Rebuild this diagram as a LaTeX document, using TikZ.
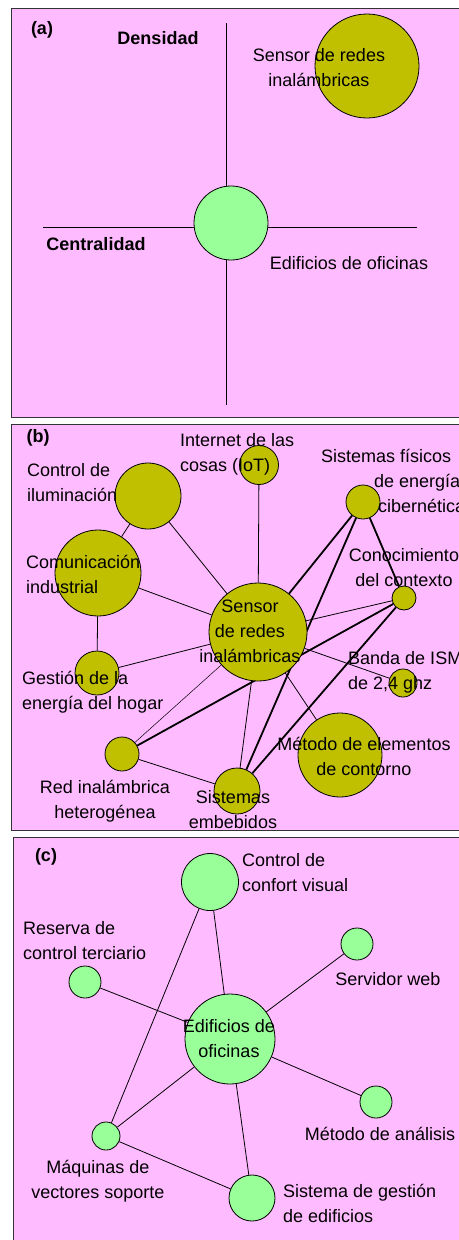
\documentclass[tikz,border=0pt]{standalone}
\usepackage{fontspec}
\setmainfont{Liberation Sans}
\usetikzlibrary{calc}

\definecolor{panelpink}{HTML}{FFBBFF}
\definecolor{nodeolive}{HTML}{C0C000}
\definecolor{nodegreen}{HTML}{99FF99}

\pgfdeclarelayer{panel}
\pgfdeclarelayer{links}
\pgfsetlayers{panel,links,main}

\begin{document}
\begin{tikzpicture}[x=1pt, y=-1pt,
    every node/.style={font=\fontsize{18}{25}\selectfont},
    panelbox/.style={draw=black!80, fill=panelpink, line width=0.9pt},
    olivenode/.style={circle, draw, fill=nodeolive, inner sep=0pt, line width=0.8pt},
    greennode/.style={circle, draw, fill=nodegreen, inner sep=0pt, line width=0.8pt},
    tagtext/.style={inner sep=0pt, font=\fontsize{18}{25}\selectfont\bfseries},
    lbl/.style={inner sep=0pt, align=center},
    lblleft/.style={inner sep=0pt, align=left, anchor=west},
    link/.style={line width=0.8pt},
    heavylink/.style={line width=1.8pt},
    faintlink/.style={line width=0.5pt}]
  \useasboundingbox (0,0) rectangle (458,1240);

  \begin{pgfonlayer}{panel}
    \path[panelbox] (11.5,8) rectangle (475,417.5);
    \path[panelbox] (11.5,424.5) rectangle (475,830.5);
    \path[panelbox] (13,837) rectangle (475,1250);
  \end{pgfonlayer}

  % (a)
  \node[tagtext] (taga) at (42,30) {(a)};
  \node[tagtext] (densidad) at (158,38) {Densidad};
  \node[tagtext] (centralidad) at (96,244) {Centralidad};
  \coordinate (ytop) at (226,23);
  \coordinate (ybot) at (226,405);
  \coordinate (xleft) at (43,227);
  \coordinate (xright) at (417,227);
  \node[greennode, minimum size=74pt] (edifa) at (231,223) {};
  \node[olivenode, minimum size=104pt] (sensora) at (367,66) {};
  \node[lbl] (lblsensora) at (319,68) {Sensor de redes\\inalámbricas};
  \node[lbl] (lbledifa) at (349,263) {Edificios de oficinas};
  \begin{pgfonlayer}{links}
    \draw[link] (ytop) -- (ybot);
    \draw[link] (xleft) -- (xright);
  \end{pgfonlayer}

  % (b)
  \node[tagtext] (tagb) at (38,438) {(b)};
  \node[olivenode, minimum size=39pt] (iot) at (259,465) {};
  \node[olivenode, minimum size=66pt] (control) at (148,496) {};
  \node[olivenode, minimum size=86pt] (comun) at (98,573) {};
  \node[olivenode, minimum size=98pt] (sensorb) at (258,632) {};
  \node[olivenode, minimum size=44pt] (gestion) at (97,673) {};
  \node[olivenode, minimum size=34pt] (red) at (122,754) {};
  \node[olivenode, minimum size=46pt] (sistemas) at (237,791) {};
  \node[olivenode, minimum size=84pt] (metodo) at (340,755) {};
  \node[olivenode, minimum size=28pt] (banda) at (403,683) {};
  \node[olivenode, minimum size=34pt] (sfe) at (363,502) {};
  \node[olivenode, minimum size=24pt] (conoc) at (404,598) {};

  \node[lblleft] (lbliot) at (180,454.5) {Internet de las\\cosas (IoT)};
  \node[lblleft] (lblcontrol) at (27,483) {Control de\\iluminación};
  \node[lblleft] (lblcomun) at (26,574) {Comunicación\\industrial};
  \node[lbl] (lblsensorb) at (250,631) {Sensor\\de redes\\inalámbricas};
  \node[lblleft] (lblgestion) at (22,692.5) {Gestión de la\\energía del hogar};
  \node[lbl] (lblred) at (105,801.5) {Red inalámbrica\\heterogénea};
  \node[lbl] (lblsistemas) at (233,809.5) {Sistemas\\embebidos};
  \node[lbl] (lblmetodo) at (364,756) {Método de elementos\\de contorno};
  \node[lblleft] (lblbanda) at (348,672) {Banda de ISM\\de 2,4 ghz};
  \node[lblleft] (lblsfe) at (321,480.5) {Sistemas físicos\\\hspace*{53pt}de energía\\\hspace*{57pt}cibernéticas};
  \node[lbl] (lblconoc) at (404,568) {Conocimiento\\del contexto};

  \begin{pgfonlayer}{links}
    \draw[link] (control) -- (comun);
    \draw[link] (control) -- (sensorb);
    \draw[link] (iot) -- (sensorb);
    \draw[link] (comun) -- (sensorb);
    \draw[link] (comun) -- (gestion);
    \draw[link] (gestion) -- (sensorb);
    \draw[faintlink] (red) -- (sensorb);
    \draw[link] (red) -- (sistemas);
    \draw[link] (sistemas) -- (sensorb);
    \draw[link] (sensorb) -- (conoc);
    \draw[link] (sensorb) -- (banda);
    \draw[link] (sensorb) -- (metodo);
    \draw[heavylink] (red) -- (conoc);
    \draw[heavylink] (sistemas) -- (sfe);
    \draw[heavylink] (sistemas) -- (conoc);
    \draw[heavylink] (sensorb) -- (sfe);
    \draw[heavylink] (sfe) -- (conoc);
  \end{pgfonlayer}

  % (c)
  \node[tagtext] (tagc) at (46,857) {(c)};
  \node[greennode, minimum size=57pt] (confort) at (210,882) {};
  \node[greennode, minimum size=32pt] (reserva) at (85,982) {};
  \node[greennode, minimum size=32pt] (servidor) at (357,944) {};
  \node[greennode, minimum size=90pt] (edifc) at (230,1039) {};
  \node[greennode, minimum size=32pt] (analisis) at (376,1102) {};
  \node[greennode, minimum size=28pt] (maquinas) at (106,1136) {};
  \node[greennode, minimum size=46pt] (sgestion) at (252,1198) {};

  \node[lblleft] (lblconfort) at (242,873) {Control de\\confort visual};
  \node[lblleft] (lblreserva) at (23,941) {Reserva de\\control terciario};
  \node[lbl] (lblservidor) at (388,979) {Servidor web};
  \node[lbl] (lbledifc) at (229,1038.5) {Edificios de\\oficinas};
  \node[lbl] (lblanalisis) at (380,1134) {Método de análisis};
  \node[lbl] (lblmaquinas) at (98,1181) {Máquinas de\\vectores soporte};
  \node[lblleft] (lblsgestion) at (283,1203) {Sistema de gestión\\de edificios};

  \begin{pgfonlayer}{links}
    \draw[link] (confort) -- (edifc);
    \draw[link] (confort) -- (maquinas);
    \draw[link] (reserva) -- (edifc);
    \draw[link] (servidor) -- (edifc);
    \draw[link] (edifc) -- (analisis);
    \draw[link] (edifc) -- (maquinas);
    \draw[link] (edifc) -- (sgestion);
    \draw[link] (maquinas) -- (sgestion);
  \end{pgfonlayer}
\end{tikzpicture}
\end{document}
